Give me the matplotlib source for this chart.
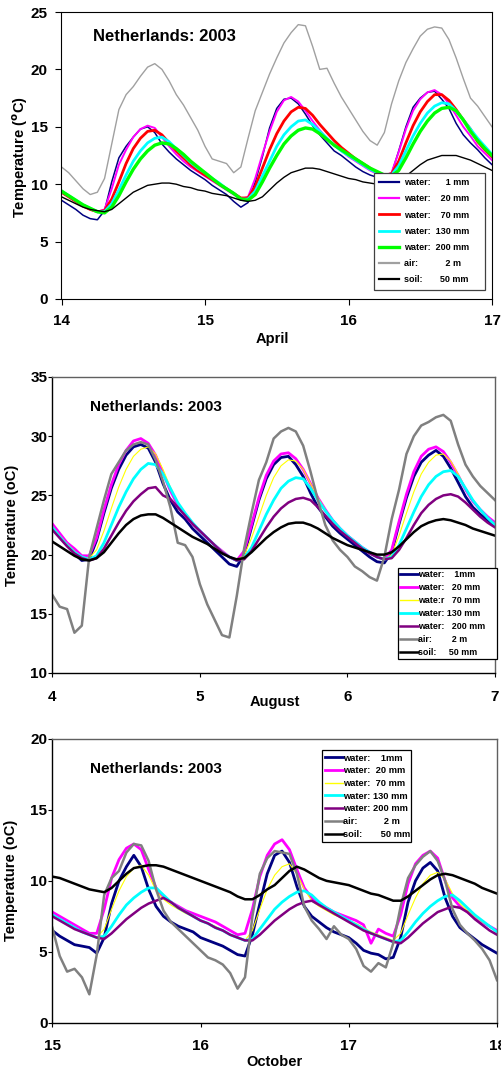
import numpy as np
import matplotlib
matplotlib.use('Agg')
import matplotlib.pyplot as plt
from matplotlib.font_manager import FontProperties

plt.rcParams['font.family'] = ['Liberation Sans', 'DejaVu Sans']
plt.rcParams['font.weight'] = 'bold'

# ---------------- DATA ----------------
# time grids (days of month, 0.05 day sampling)
t_april = np.linspace(14.0, 17.0, 61)
t_aug = np.linspace(4.0, 7.0, 61)
t_oct = np.linspace(15.0, 18.0, 61)

# April panel
apr_w1 = [8.6, 8.2, 7.8, 7.3, 7.0, 6.9, 7.7, 10.2, 12.3, 13.3, 14.1, 14.8, 15.0, 14.5, 13.5, 12.8, 12.2, 11.7, 11.2, 10.8,
          10.4, 9.9, 9.5, 9.1, 8.5, 8.0, 8.4, 10.2, 12.4, 14.9, 16.6, 17.4, 17.5, 17.0, 16.1, 15.1, 14.3, 13.6, 12.9, 12.5,
          12.0, 11.5, 11.1, 10.8, 10.6, 10.5, 10.9, 12.9, 15.0, 16.7, 17.5, 18.0, 18.1, 17.4, 16.6, 15.3, 14.3, 13.6, 13.0, 12.3,
          11.7]
apr_w20 = [9.3, 8.9, 8.5, 8.1, 7.8, 7.6, 7.8, 9.6, 11.7, 13.0, 14.1, 14.8, 15.1, 14.9, 14.1, 13.3, 12.6, 12.0, 11.5, 11.1,
           10.7, 10.3, 9.9, 9.5, 9.1, 8.7, 8.9, 10.5, 12.6, 14.6, 16.3, 17.3, 17.6, 17.2, 16.4, 15.5, 14.7, 14.0, 13.4, 12.9,
           12.4, 12.0, 11.6, 11.2, 10.9, 10.7, 11.0, 12.8, 14.8, 16.4, 17.4, 18.0, 18.2, 17.8, 17.0, 16.0, 15.0, 14.2, 13.3, 12.7,
           12.1]
apr_w70 = [9.3, 8.9, 8.5, 8.1, 7.8, 7.6, 7.7, 8.7, 10.2, 11.8, 13.1, 14.0, 14.6, 14.7, 14.3, 13.6, 12.9, 12.3, 11.7, 11.2,
           10.8, 10.4, 10.0, 9.6, 9.2, 8.8, 8.8, 9.8, 11.4, 13.0, 14.4, 15.5, 16.3, 16.7, 16.6, 16.0, 15.2, 14.5, 13.8, 13.2,
           12.7, 12.2, 11.8, 11.4, 11.0, 10.8, 10.9, 12.0, 13.6, 15.1, 16.3, 17.2, 17.8, 17.8, 17.3, 16.5, 15.6, 14.8, 13.7, 13.0,
           12.4]
apr_w130 = [9.4, 9.0, 8.6, 8.2, 7.9, 7.6, 7.6, 8.3, 9.5, 10.8, 12.0, 12.9, 13.6, 14.0, 14.1, 13.7, 13.1, 12.5, 11.9, 11.4,
            11.0, 10.5, 10.1, 9.6, 9.2, 8.7, 8.7, 9.4, 10.7, 12.0, 13.3, 14.3, 15.0, 15.5, 15.6, 15.2, 14.6, 14.0, 13.4, 12.9,
            12.5, 12.1, 11.7, 11.3, 11.0, 10.8, 10.8, 11.6, 12.9, 14.2, 15.3, 16.2, 16.8, 17.1, 17.0, 16.4, 15.6, 14.8, 14.0, 13.3,
            12.6]
apr_w200 = [9.4, 9.0, 8.6, 8.2, 7.9, 7.6, 7.5, 8.0, 9.0, 10.2, 11.3, 12.2, 12.9, 13.4, 13.6, 13.5, 13.1, 12.6, 12.0, 11.5,
            11.0, 10.5, 10.0, 9.6, 9.2, 8.7, 8.6, 9.1, 10.2, 11.4, 12.5, 13.5, 14.2, 14.7, 14.9, 14.8, 14.4, 13.9, 13.4, 13.0,
            12.6, 12.2, 11.8, 11.4, 11.1, 10.8, 10.7, 11.2, 12.3, 13.5, 14.6, 15.5, 16.2, 16.6, 16.7, 16.4, 15.6, 14.6, 13.8, 13.1,
            12.5]
apr_air = [11.5, 11.0, 10.3, 9.6, 9.1, 9.3, 10.5, 13.5, 16.5, 17.8, 18.5, 19.4, 20.2, 20.5, 20.0, 19.0, 17.8, 16.9, 15.8, 14.7,
           13.3, 12.2, 12.0, 11.8, 11.0, 11.5, 14.0, 16.4, 18.0, 19.6, 21.0, 22.3, 23.2, 23.9, 23.8, 22.0, 20.0, 20.1, 18.8, 17.6,
           16.6, 15.6, 14.6, 13.8, 13.4, 14.5, 17.0, 19.0, 20.6, 21.8, 22.9, 23.5, 23.7, 23.6, 22.6, 21.0, 19.2, 17.5, 16.8, 15.9,
           15.0]
apr_soil = [8.9, 8.6, 8.3, 8.0, 7.8, 7.7, 7.6, 7.8, 8.3, 8.8, 9.3, 9.6, 9.9, 10.0, 10.1, 10.1, 10.0, 9.8, 9.7, 9.5,
            9.4, 9.2, 9.1, 9.0, 8.8, 8.6, 8.5, 8.6, 8.9, 9.5, 10.1, 10.6, 11.0, 11.2, 11.4, 11.4, 11.3, 11.1, 10.9, 10.7,
            10.5, 10.4, 10.2, 10.1, 10.0, 9.9, 9.9, 10.2, 10.7, 11.2, 11.7, 12.1, 12.3, 12.5, 12.5, 12.5, 12.3, 12.1, 11.8, 11.5,
            11.2]

# August panel
aug_w1 = [22.2, 21.5, 20.8, 20.1, 19.5, 19.6, 21.2, 23.5, 25.6, 27.2, 28.4, 29.1, 29.3, 29.0, 27.8, 26.0, 24.6, 23.6, 23.0, 22.2,
          21.6, 21.0, 20.4, 19.8, 19.2, 19.0, 20.0, 22.3, 24.6, 26.4, 27.6, 28.2, 28.3, 27.6, 26.6, 25.2, 24.0, 23.2, 22.4, 21.8,
          21.3, 20.8, 20.3, 19.8, 19.4, 19.3, 20.2, 22.6, 24.8, 26.6, 27.8, 28.4, 28.8, 28.3, 27.3, 26.1, 24.9, 24.0, 23.4, 22.9,
          22.4]
aug_w20 = [22.6, 21.8, 21.0, 20.5, 19.9, 19.9, 21.4, 23.8, 25.9, 27.6, 28.8, 29.6, 29.8, 29.4, 28.4, 26.9, 25.4, 24.2, 23.3, 22.6,
           22.0, 21.4, 20.8, 20.3, 19.8, 19.5, 20.3, 22.5, 24.8, 26.7, 27.9, 28.5, 28.6, 28.1, 27.2, 26.0, 24.8, 23.8, 22.9, 22.2,
           21.6, 21.1, 20.6, 20.2, 19.8, 19.6, 20.4, 22.8, 25.1, 27.0, 28.3, 28.9, 29.1, 28.7, 27.8, 26.7, 25.5, 24.5, 23.8, 23.2,
           22.7]
aug_w70 = [22.4, 21.6, 20.9, 20.3, 19.8, 19.7, 20.4, 22.0, 23.9, 25.7, 27.2, 28.3, 28.9, 29.1, 28.5, 27.2, 25.7, 24.4, 23.4, 22.6,
           22.0, 21.4, 20.8, 20.3, 19.8, 19.6, 19.9, 21.4, 23.2, 25.0, 26.5, 27.5, 28.0, 27.9, 27.2, 26.0, 24.8, 23.8, 22.9, 22.2,
           21.6, 21.1, 20.6, 20.2, 19.8, 19.6, 20.0, 21.6, 23.5, 25.3, 26.8, 27.8, 28.4, 28.5, 27.9, 26.8, 25.6, 24.6, 23.8, 23.1,
           22.6]
aug_w130 = [22.3, 21.5, 20.8, 20.2, 19.8, 19.6, 19.9, 21.0, 22.5, 24.0, 25.3, 26.4, 27.2, 27.7, 27.6, 26.8, 25.6, 24.4, 23.5, 22.7,
            22.0, 21.4, 20.8, 20.2, 19.8, 19.5, 19.7, 20.6, 22.0, 23.4, 24.6, 25.6, 26.2, 26.5, 26.4, 25.6, 24.6, 23.7, 22.9, 22.2,
            21.6, 21.1, 20.6, 20.2, 19.8, 19.6, 19.8, 20.8, 22.2, 23.6, 24.9, 25.9, 26.6, 27.0, 27.1, 26.6, 25.6, 24.6, 23.8, 23.1,
            22.5]
aug_w200 = [22.1, 21.4, 20.7, 20.1, 19.7, 19.5, 19.7, 20.5, 21.6, 22.7, 23.7, 24.5, 25.1, 25.6, 25.7, 25.0, 24.7, 24.0, 23.3, 22.6,
            22.0, 21.4, 20.8, 20.2, 19.8, 19.5, 19.6, 20.3, 21.3, 22.3, 23.2, 23.9, 24.4, 24.7, 24.8, 24.6, 24.0, 23.3, 22.6, 22.0,
            21.5, 21.0, 20.5, 20.1, 19.8, 19.6, 19.7, 20.4, 21.4, 22.5, 23.5, 24.2, 24.7, 25.0, 25.1, 24.9, 24.4, 23.8, 23.2, 22.7,
            22.3]
aug_air = [16.6, 15.6, 15.4, 13.4, 14.0, 19.8, 22.2, 24.6, 26.8, 27.8, 28.8, 29.3, 29.5, 29.3, 28.0, 26.2, 24.0, 21.0, 20.8, 19.8,
           17.5, 15.8, 14.5, 13.2, 13.0, 16.5, 20.5, 23.5, 26.3, 27.8, 29.8, 30.4, 30.7, 30.4, 29.2, 27.0, 24.6, 22.5, 21.2, 20.4,
           19.8, 19.0, 18.6, 18.1, 17.8, 19.8, 23.0, 25.5, 28.5, 30.0, 30.9, 31.2, 31.6, 31.8, 31.3, 29.3, 27.6, 26.6, 25.8, 25.2,
           24.6]
aug_soil = [21.1, 20.7, 20.3, 19.9, 19.6, 19.5, 19.7, 20.2, 21.0, 21.8, 22.5, 23.0, 23.3, 23.4, 23.4, 23.1, 22.7, 22.3, 21.9, 21.5,
            21.2, 20.9, 20.5, 20.1, 19.8, 19.6, 19.7, 20.2, 20.8, 21.4, 21.9, 22.3, 22.6, 22.7, 22.7, 22.5, 22.2, 21.8, 21.4, 21.1,
            20.8, 20.6, 20.4, 20.2, 20.0, 20.0, 20.2, 20.7, 21.3, 21.9, 22.4, 22.7, 22.9, 23.0, 22.9, 22.7, 22.5, 22.2, 22.0, 21.8,
            21.6]

# October panel
oct_w1 = [6.5, 6.1, 5.8, 5.5, 5.4, 5.3, 4.9, 6.0, 8.4, 10.0, 11.0, 11.8, 11.0, 9.4, 8.2, 7.5, 7.1, 6.8, 6.6, 6.4,
          6.0, 5.8, 5.6, 5.4, 5.1, 4.8, 4.7, 6.2, 8.4, 10.5, 11.8, 12.1, 11.3, 9.6, 8.2, 7.5, 7.1, 6.7, 6.4, 6.2,
          6.0, 5.6, 5.1, 4.9, 4.8, 4.5, 4.6, 6.0, 8.5, 10.0, 10.9, 11.3, 10.7, 8.8, 7.5, 6.7, 6.3, 5.9, 5.5, 5.2,
          4.9]
oct_w20 = [7.8, 7.5, 7.2, 6.9, 6.6, 6.3, 6.3, 8.0, 10.2, 11.5, 12.3, 12.6, 12.2, 10.8, 9.5, 8.8, 8.5, 8.2, 7.9, 7.7,
           7.5, 7.3, 7.1, 6.8, 6.5, 6.2, 6.3, 8.0, 10.3, 11.8, 12.6, 12.9, 12.2, 10.8, 9.5, 8.8, 8.4, 8.1, 7.8, 7.6,
           7.4, 7.2, 6.9, 5.6, 6.6, 6.3, 6.1, 7.6, 9.8, 11.2, 11.8, 12.1, 11.6, 10.0, 8.8, 8.2, 7.8, 7.4, 7.1, 6.8,
           6.5]
oct_w70 = [7.6, 7.3, 7.0, 6.7, 6.4, 6.2, 6.0, 6.6, 8.0, 9.3, 10.3, 10.9, 11.1, 10.4, 9.3, 8.7, 8.3, 8.0, 7.7, 7.5,
           7.2, 7.0, 6.8, 6.5, 6.2, 6.0, 5.8, 6.5, 8.0, 9.4, 10.4, 11.0, 11.2, 10.5, 9.4, 8.6, 8.2, 7.9, 7.6, 7.4,
           7.2, 7.0, 6.7, 6.4, 6.2, 6.0, 5.8, 6.3, 7.6, 8.8, 9.8, 10.4, 10.6, 10.1, 9.1, 8.4, 7.9, 7.5, 7.1, 6.8,
           6.4]
oct_w130 = [7.6, 7.3, 7.0, 6.7, 6.4, 6.2, 6.0, 6.1, 6.8, 7.6, 8.3, 8.8, 9.2, 9.5, 9.5, 9.0, 8.5, 8.1, 7.8, 7.5,
            7.2, 7.0, 6.7, 6.5, 6.2, 6.0, 5.8, 5.9, 6.6, 7.3, 8.0, 8.5, 8.9, 9.2, 9.3, 9.0, 8.5, 8.1, 7.8, 7.5,
            7.2, 6.9, 6.6, 6.3, 6.1, 5.9, 5.7, 5.8, 6.4, 7.1, 7.7, 8.2, 8.6, 8.9, 9.0, 8.6, 8.1, 7.6, 7.2, 6.8,
            6.4]
oct_w200 = [7.5, 7.2, 6.9, 6.6, 6.4, 6.2, 6.0, 5.9, 6.3, 6.8, 7.3, 7.7, 8.1, 8.4, 8.6, 8.8, 8.5, 8.1, 7.8, 7.5,
            7.2, 7.0, 6.7, 6.5, 6.2, 6.0, 5.8, 5.8, 6.2, 6.7, 7.2, 7.6, 8.0, 8.3, 8.5, 8.6, 8.3, 8.0, 7.7, 7.4,
            7.1, 6.8, 6.5, 6.3, 6.1, 5.9, 5.7, 5.6, 6.0, 6.5, 7.0, 7.4, 7.8, 8.0, 8.2, 8.1, 7.8, 7.3, 6.9, 6.5,
            6.2]
oct_air = [6.7, 4.7, 3.6, 3.8, 3.2, 2.0, 4.8, 9.0, 10.2, 10.7, 12.0, 12.6, 12.5, 11.4, 9.4, 7.9, 7.1, 6.6, 6.1, 5.6,
           5.1, 4.6, 4.4, 4.1, 3.5, 2.4, 3.2, 7.5, 10.5, 11.6, 12.1, 12.0, 11.9, 10.5, 8.2, 7.2, 6.6, 5.9, 6.8, 6.2,
           5.9, 5.2, 4.0, 3.6, 4.2, 3.9, 5.6, 8.2, 10.2, 11.1, 11.7, 12.1, 11.4, 10.0, 8.0, 6.9, 6.3, 5.8, 5.2, 4.4,
           3.0]
oct_soil = [10.3, 10.2, 10.0, 9.8, 9.6, 9.4, 9.3, 9.2, 9.5, 10.0, 10.5, 10.9, 11.0, 11.1, 11.1, 11.0, 10.8, 10.6, 10.4, 10.2,
            10.0, 9.8, 9.6, 9.4, 9.2, 8.9, 8.7, 8.7, 9.0, 9.4, 9.7, 10.2, 10.7, 11.0, 10.8, 10.5, 10.2, 10.0, 9.9, 9.8,
            9.7, 9.5, 9.3, 9.1, 9.0, 8.8, 8.6, 8.6, 8.9, 9.3, 9.7, 10.1, 10.4, 10.5, 10.4, 10.2, 10.0, 9.8, 9.5, 9.3,
            9.1]

# Labels
title_txt = "Netherlands: 2003"
labels_apr = ["water:      1 mm", "water:    20 mm", "water:    70 mm", "water:  130 mm",
              "water:  200 mm", "air:           2 m", "soil:       50 mm"]
labels_aug = ["water:    1mm", "water:   20 mm", "wate:r   70 mm", "water: 130 mm",
              "water:   200 mm", "air:        2 m", "soil:     50 mm"]
labels_oct = ["water:    1mm", "water:  20 mm", "water:  70 mm", "water: 130 mm",
              "water: 200 mm", "air:          2 m", "soil:       50 mm"]

# ---------------- FIGURE ----------------
W, H = 502, 1070
fig = plt.figure(figsize=(W / 100, H / 100), dpi=100)


def add_ax(left, right, top, bottom):
    return fig.add_axes([left / W, 1 - bottom / H, (right - left) / W, (bottom - top) / H])


ax1 = add_ax(61.5, 492, 12, 299)
ax2 = add_ax(52.3, 495, 377, 673)
ax3 = add_ax(52.3, 497, 739, 1022.7)

panels = [
    dict(ax=ax1, t=t_april, xlim=(14, 17), ylim=(0, 25), yt=[0, 5, 10, 15, 20, 25],
         series=[(apr_w1, '#000080', 1.1), (apr_w20, '#FF00FF', 1.4), (apr_w70, '#FF0000', 2.0),
                 (apr_w130, '#00FFFF', 2.0), (apr_w200, '#00FF00', 2.4), (apr_air, '#A0A0A0', 1.0),
                 (apr_soil, '#000000', 1.0)],
         labels=labels_apr, xlabel='April', ylabel='Temperature ($^{\\mathbf{o}}$C)',
         leg_box=(0.726, 0.024, 0.258, 0.416), leg_fs=6.5, leg_ls=0.80, leg_bp=0.6, leg_hl=2.2, leg_htp=0.5,
         leg_ec='#404040', title_xy=(0.238, 0.913), title_fs=12,
         xlab_xy=(0.489, -0.139), ylab_xy=(-0.096, 0.495), xpad=6.5, ypad=6, ticklen=4),
    dict(ax=ax2, t=t_aug, xlim=(4, 7), ylim=(10, 35), yt=[10, 15, 20, 25, 30, 35],
         series=[(aug_w1, '#000080', 2.0), (aug_w20, '#FF00FF', 2.0), (aug_w70, '#FFFF00', 0.8),
                 (aug_w130, '#00FFFF', 2.0), (aug_w200, '#800080', 1.8), (aug_air, '#808080', 1.8),
                 (aug_soil, '#000000', 1.8)],
         labels=labels_aug, xlabel='August', ylabel='Temperature (oC)',
         leg_box=(0.780, 0.035, 0.224, 0.321), leg_fs=6.4, leg_ls=0.45, leg_bp=0.26, leg_hl=2.0, leg_htp=0.05,
         leg_ec='#000000', title_xy=(0.234, 0.900), title_fs=11,
         xlab_xy=(0.503, -0.097), ylab_xy=(-0.090, 0.5), xpad=9, ypad=0.5, ticklen=3),
    dict(ax=ax3, t=t_oct, xlim=(15, 18), ylim=(0, 20), yt=[0, 5, 10, 15, 20],
         series=[(oct_w1, '#000080', 2.0), (oct_w20, '#FF00FF', 2.0), (oct_w70, '#FFFF00', 0.8),
                 (oct_w130, '#00FFFF', 2.0), (oct_w200, '#800080', 1.8), (oct_air, '#808080', 1.8),
                 (oct_soil, '#000000', 1.8)],
         labels=labels_oct, xlabel='October', ylabel='Temperature (oC)',
         leg_box=(0.606, 0.628, 0.201, 0.332), leg_fs=6.7, leg_ls=0.40, leg_bp=0.34, leg_hl=1.9, leg_htp=0.05,
         leg_ec='#000000', title_xy=(0.233, 0.894), title_fs=11,
         xlab_xy=(0.500, -0.137), ylab_xy=(-0.093, 0.5), xpad=9, ypad=0.5, ticklen=3),
]

for i, p in enumerate(panels):
    ax = p['ax']
    handles = []
    for (vals, col, lw) in p['series']:
        h, = ax.plot(p['t'], vals, color=col, lw=lw, solid_joinstyle='round')
        handles.append(h)
    ax.set_xlim(*p['xlim'])
    ax.set_ylim(*p['ylim'])
    ax.set_xticks(list(range(p['xlim'][0], p['xlim'][1] + 1)))
    ax.set_yticks(p['yt'])
    ax.tick_params(axis='both', direction='out', length=p['ticklen'], width=0.8, labelsize=11)
    ax.tick_params(axis='x', pad=p['xpad'])
    ax.tick_params(axis='y', pad=p['ypad'])
    for lab in ax.get_xticklabels() + ax.get_yticklabels():
        lab.set_fontweight('bold')
    if i == 0:
        for s in ax.spines.values():
            s.set_color('black')
            s.set_linewidth(0.8)
    else:
        ax.spines['left'].set_color('black')
        ax.spines['bottom'].set_color('black')
        ax.spines['left'].set_linewidth(1.0)
        ax.spines['bottom'].set_linewidth(1.0)
        ax.spines['top'].set_color('#606060')
        ax.spines['right'].set_color('#606060')
        ax.spines['top'].set_linewidth(1.0)
        ax.spines['right'].set_linewidth(1.0)

    ax.text(p['title_xy'][0], p['title_xy'][1], title_txt, transform=ax.transAxes,
            ha='center', va='center', fontsize=p['title_fs'], fontweight='bold')
    ax.set_xlabel(p['xlabel'], fontsize=10.5, fontweight='bold')
    ax.xaxis.set_label_coords(*p['xlab_xy'])
    ax.xaxis.label.set_verticalalignment('center')
    ax.set_ylabel(p['ylabel'], fontsize=10.5, fontweight='bold')
    ax.yaxis.set_label_coords(*p['ylab_xy'])
    ax.yaxis.label.set_verticalalignment('center')

    leg = ax.legend(handles, p['labels'], loc='upper left', bbox_to_anchor=p['leg_box'],
                    bbox_transform=ax.transAxes, mode='expand', borderaxespad=0, frameon=True,
                    fancybox=False, framealpha=1, edgecolor=p['leg_ec'],
                    prop=FontProperties(family='Liberation Sans', weight='bold', size=p['leg_fs']),
                    labelspacing=p['leg_ls'], borderpad=p['leg_bp'], handlelength=p['leg_hl'],
                    handletextpad=p['leg_htp'])
    leg.get_frame().set_linewidth(0.9)
    for lh in leg.get_lines():
        lh.set_linewidth(max(lh.get_linewidth(), 1.6) if lh.get_color() not in ('#FFFF00',) else 1.0)

fig.savefig('out.png', dpi=100)
